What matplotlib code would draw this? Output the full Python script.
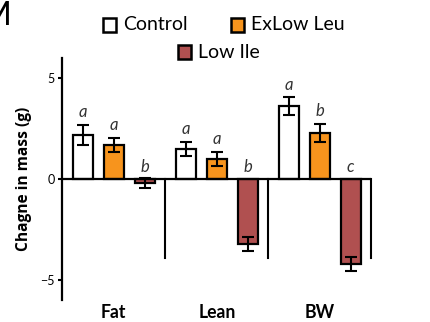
import numpy as np
import matplotlib
matplotlib.use("Agg")
import matplotlib.pyplot as plt
from matplotlib.patches import Rectangle

plt.rcParams['font.family'] = ['Lato', 'DejaVu Sans']

# Değişim verileri (g)
categories = ["Fat", "Lean", "BW"]
groups = ["Control", "ExLow Leu", "Low Ile"]
means = {
    "Control":   [2.2, 1.5, 3.6],
    "ExLow Leu": [1.7, 1.0, 2.3],
    "Low Ile":   [-0.2, -3.2, -4.2],
}
errors = {
    "Control":   [0.5, 0.35, 0.45],
    "ExLow Leu": [0.35, 0.35, 0.45],
    "Low Ile":   [0.25, 0.35, 0.35],
}
letters = {
    "Control":   ["a", "a", "a"],
    "ExLow Leu": ["a", "a", "b"],
    "Low Ile":   ["b", "b", "c"],
}
colors = {"Control": "white", "ExLow Leu": "#F7941D", "Low Ile": "#B05050"}

fig = plt.figure(figsize=(4.3, 3.22), dpi=100)
ax = fig.add_axes([0.144, 0.068, 0.719, 0.752])

group_step = 3.33
first = 0.68
bar_w = 0.65

for gi, cat in enumerate(categories):
    start = first + gi * group_step
    for bi, g in enumerate(groups):
        x = start + bi
        m = means[g][gi]
        e = errors[g][gi]
        ax.bar(x, m, width=bar_w, color=colors[g], edgecolor="black",
               linewidth=1.6, zorder=2)
        ax.errorbar(x, m, yerr=e, color="black", capsize=4.3,
                    capthick=1.5, elinewidth=1.5, zorder=3)
        # harfler
        if m >= 0:
            ty = m + e + 0.22
        else:
            ty = 0.22
        ax.text(x, ty, letters[g][gi], ha="center", va="bottom",
                fontsize=12, style="italic", color="#333333")
    # grup ayırıcı çizgi
    sep = start + 2.66
    ax.plot([sep, sep], [0, -3.9], color="black", lw=1.5, clip_on=False,
            zorder=1)
    ax.text(start + 1, -6.6, cat, ha="center", va="center",
            fontsize=12.7, fontweight="bold")

ax.axhline(0, color="black", lw=1.6, zorder=4)
ax.set_xlim(0, first + 2 * group_step + 2.66)
ax.set_ylim(-6, 6)
ax.set_yticks([-5, 0, 5])
ax.set_xticks([])
for s in ["top", "right", "bottom"]:
    ax.spines[s].set_visible(False)
ax.spines["left"].set_linewidth(1.6)
ax.tick_params(axis="y", length=3, width=1.5, labelsize=9, pad=2)
ax.set_ylabel("Chagne in mass (g)", fontsize=11.2, fontweight="bold",
              family=["Open Sans", "DejaVu Sans"], labelpad=6)

# lejant
def legend_item(x, y, label, color):
    fig.patches.append(Rectangle((x / 430, 1 - (y + 6.5) / 322), 13 / 430,
                                 13 / 322, transform=fig.transFigure,
                                 facecolor=color, edgecolor="black",
                                 linewidth=1.8))
    fig.text((x + 20) / 430, 1 - y / 322, label, ha="left", va="center",
             fontsize=14)

legend_item(103, 25, "Control", colors["Control"])
legend_item(231, 25, "ExLow Leu", colors["ExLow Leu"])
legend_item(178, 52, "Low Ile", colors["Low Ile"])

fig.text(-19 / 430, 1 - 16 / 322, "M", fontsize=24, ha="left", va="center")

fig.savefig("out.png", dpi=100)
